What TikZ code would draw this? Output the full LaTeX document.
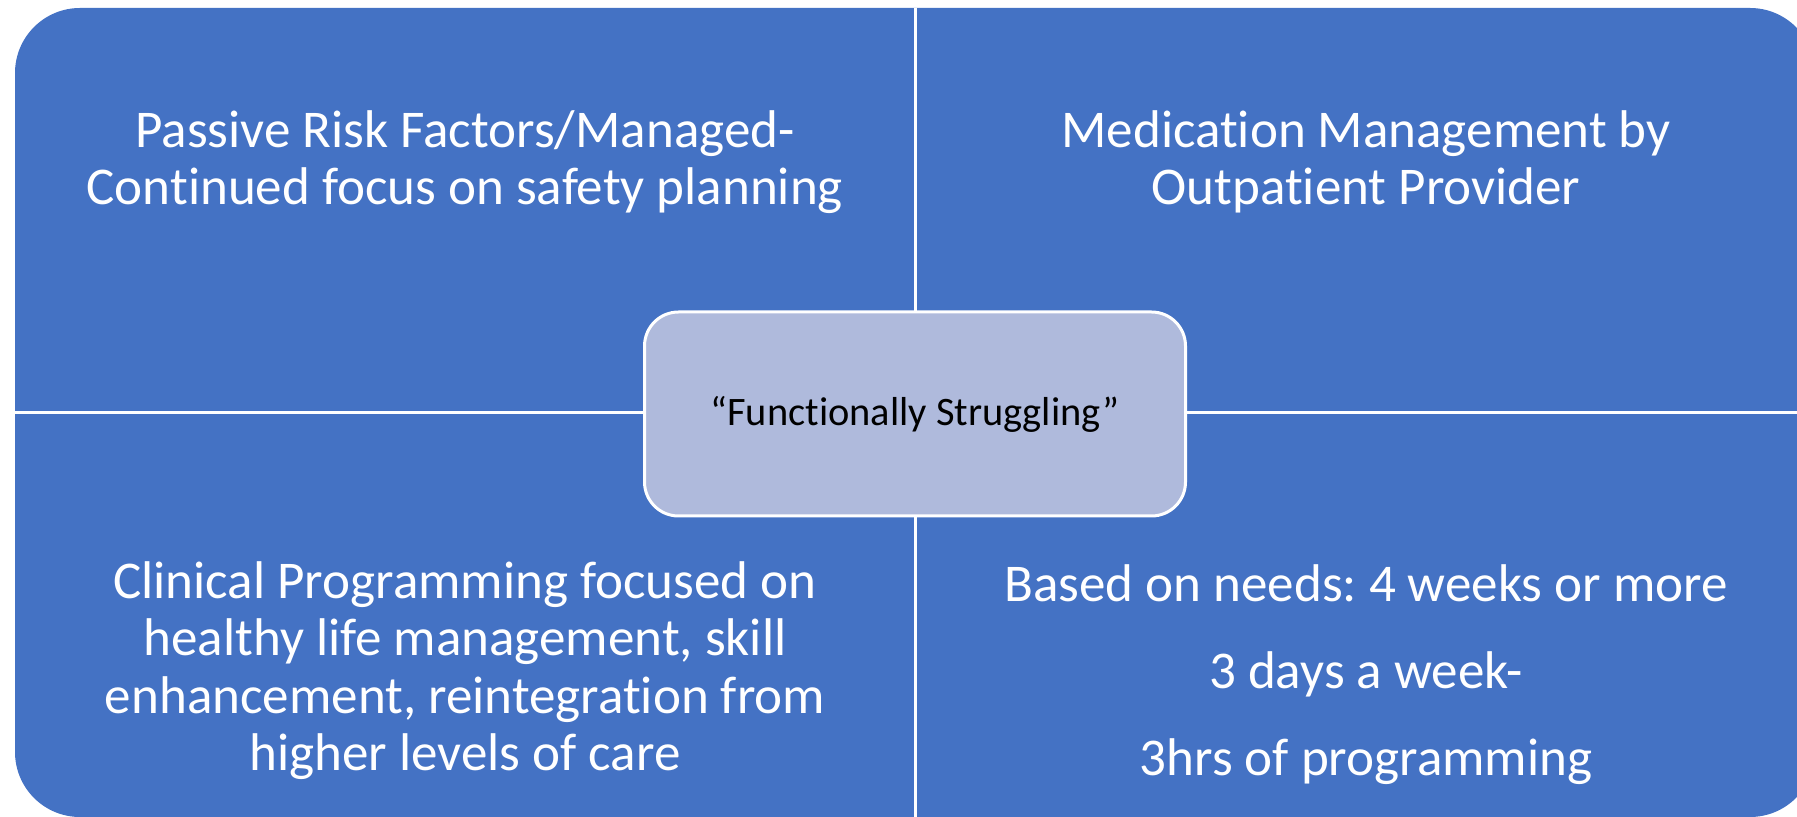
\documentclass[tikz,border=0pt]{standalone}
\usepackage{fontspec}
\setmainfont{Carlito}[Ligatures=NoCommon]
\frenchspacing
\definecolor{quadblue}{RGB}{68,114,196}
\definecolor{corefill}{RGB}{175,186,220}

\begin{document}
\begin{tikzpicture}[x=0.1mm,y=-0.1mm,
    quadtext/.style={text=white,align=center,inner sep=0pt,anchor=north,font=\fontsize{15.1}{16.3}\selectfont},
    divider/.style={white,line width=0.3mm}]
        \useasboundingbox (0,0) rectangle (1797,817);
        \clip (0,0) rectangle (1797,817);
        \fill[quadblue,rounded corners=6.5mm] (15,8) rectangle (1815,817);

        \coordinate (top) at (915,8);
        \coordinate (bottom) at (915,817);
        \coordinate (left) at (15,413);
        \coordinate (right) at (1815,413);
        \draw[divider] (top) -- (bottom);
        \draw[divider] (left) -- (right);

        \node[quadtext] (tl) at (465,110) {Passive Risk Factors/Managed-\\Continued focus on safety planning};
        \node[quadtext] (tr) at (1366,110) {Medication Management by\\Outpatient Provider};
        \node[quadtext] (bl) at (465,561) {Clinical Programming focused on\\healthy life management, skill\\enhancement, reintegration from\\higher levels of care};
        \node[quadtext,font=\fontsize{15.1}{24.7}\selectfont] (br) at (1366,564) {Based on needs: 4 weeks or more\\3 days a week-\\3hrs of programming};

        \node[draw=white,line width=0.3mm,fill=corefill,rounded corners=3.4mm,
              minimum width=54.1mm,minimum height=20.4mm,
              font=\fontsize{11.5}{14}\selectfont] (core) at (915,414) {“Functionally Struggling”};
      \end{tikzpicture}
\end{document}
